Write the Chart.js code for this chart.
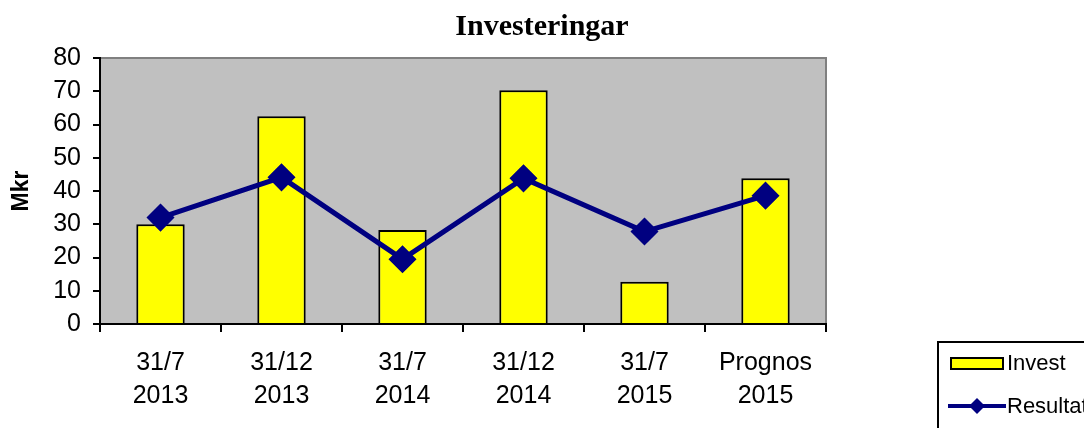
<!DOCTYPE html>
<html>
<head>
<meta charset="utf-8">
<script src="https://cdn.jsdelivr.net/npm/chart.js@4/dist/chart.umd.min.js"></script>
<style>
  html, body { margin: 0; padding: 0; background: #fff; }
  #wrap { width: 1084px; height: 428px; }
</style>
</head>
<body>
<div id="wrap"><canvas id="graf" width="1084" height="428"></canvas></div>
<script>
// Kategorier och värden (Mkr)
const perioder = [['31/7', '2013'], ['31/12', '2013'], ['31/7', '2014'], ['31/12', '2014'], ['31/7', '2015'], ['Prognos', '2015']];
const invest = [30, 62.5, 28.3, 70.3, 12.7, 43.8];
const resultat = [32, 44.1, 19.5, 43.8, 27.8, 38.6];
const yTicks = [0, 10, 20, 30, 40, 50, 60, 70, 80];

const MARINBLA = '#000080';
const ARIAL = 'Arial, "Liberation Sans", sans-serif';

// bakgrund i plotytan + grå kant upptill/höger
const plotBakgrund = {
    id: 'plotBakgrund',
    beforeDraw(chart) {
        const { ctx, chartArea: a } = chart;
        ctx.save();
        ctx.fillStyle = '#C0C0C0';
        ctx.fillRect(a.left, a.top, a.right - a.left, a.bottom - a.top);
        ctx.strokeStyle = '#808080';
        ctx.lineWidth = 2;
        ctx.beginPath();
        ctx.moveTo(a.left, a.top);
        ctx.lineTo(a.right, a.top);
        ctx.lineTo(a.right, a.bottom);
        ctx.stroke();
        ctx.restore();
    }
};

// förklaringsruta nere till höger (delvis utanför bilden)
const forklaring = {
    id: 'forklaring',
    afterDraw(chart) {
        const ctx = chart.ctx;
        ctx.save();
        ctx.strokeStyle = '#000';
        ctx.lineWidth = 2;
        ctx.strokeRect(938, 342, 200, 120);

        ctx.fillStyle = '#FFFF00';
        ctx.fillRect(951, 358, 52, 11);
        ctx.lineWidth = 2;
        ctx.strokeRect(951, 358, 52, 11);

        ctx.strokeStyle = MARINBLA;
        ctx.lineWidth = 4;
        ctx.beginPath();
        ctx.moveTo(948, 406);
        ctx.lineTo(1006, 406);
        ctx.stroke();
        ctx.fillStyle = MARINBLA;
        ctx.beginPath();
        ctx.moveTo(977, 398);
        ctx.lineTo(985, 406);
        ctx.lineTo(977, 414);
        ctx.lineTo(969, 406);
        ctx.closePath();
        ctx.fill();

        ctx.fillStyle = '#000';
        ctx.font = '22px ' + ARIAL;
        ctx.textBaseline = 'middle';
        ctx.fillText('Invest', 1007, 364);
        ctx.fillText('Resultat', 1007, 407);
        ctx.restore();
    }
};

const ctx = document.getElementById('graf').getContext('2d');
new Chart(ctx, {
    type: 'bar',
    data: {
        labels: perioder,
        datasets: [
            {
                type: 'line',
                label: 'Resultat',
                data: resultat,
                borderColor: MARINBLA,
                backgroundColor: MARINBLA,
                borderWidth: 5,
                pointStyle: 'rectRot',
                pointRadius: 10.5,
                pointHoverRadius: 10.5,
                tension: 0,
                order: 0
            },
            {
                label: 'Invest',
                data: invest,
                backgroundColor: '#FFFF00',
                borderColor: '#000',
                borderWidth: 2,
                categoryPercentage: 1,
                barPercentage: 0.4,
                order: 1
            }
        ]
    },
    options: {
        responsive: false,
        animation: false,
        events: [],
        layout: { padding: 0 },
        plugins: {
            legend: { display: false },
            tooltip: { enabled: false },
            title: {
                display: true,
                text: 'Investeringar',
                color: '#000',
                font: { family: '"Times New Roman", "Liberation Serif", serif', size: 30, weight: 'bold' },
                padding: { top: 9, bottom: 13 }
            }
        },
        scales: {
            x: {
                offset: true,
                grid: {
                    offset: true,
                    drawOnChartArea: false,
                    color: '#000',
                    lineWidth: 2,
                    tickLength: 8
                },
                border: { color: '#000', width: 2 },
                ticks: {
                    color: '#000',
                    padding: 15,
                    maxRotation: 0,
                    font: { family: ARIAL, size: 25, lineHeight: 1.32 }
                },
                afterFit(scale) { scale.height = 104; }
            },
            y: {
                min: 0,
                max: 80,
                afterBuildTicks(scale) { scale.ticks = yTicks.map(v => ({ value: v })); },
                grid: {
                    drawOnChartArea: false,
                    color: '#000',
                    lineWidth: 2,
                    tickLength: 7
                },
                border: { color: '#000', width: 2 },
                ticks: {
                    color: '#000',
                    padding: 12,
                    font: { family: ARIAL, size: 25 }
                },
                title: {
                    display: true,
                    text: 'Mkr',
                    color: '#000',
                    font: { family: ARIAL, size: 23, weight: 'bold' },
                    padding: { top: 8, bottom: 0 }
                },
                afterFit(scale) { scale.width = 100; }
            },
            // tom axel till höger som ger plats åt förklaringen
            hoger: {
                position: 'right',
                display: true,
                grid: { display: false },
                border: { display: false },
                ticks: { display: false },
                afterFit(scale) { scale.width = 258; }
            }
        }
    },
    plugins: [plotBakgrund, forklaring]
});
</script>
</body>
</html>
